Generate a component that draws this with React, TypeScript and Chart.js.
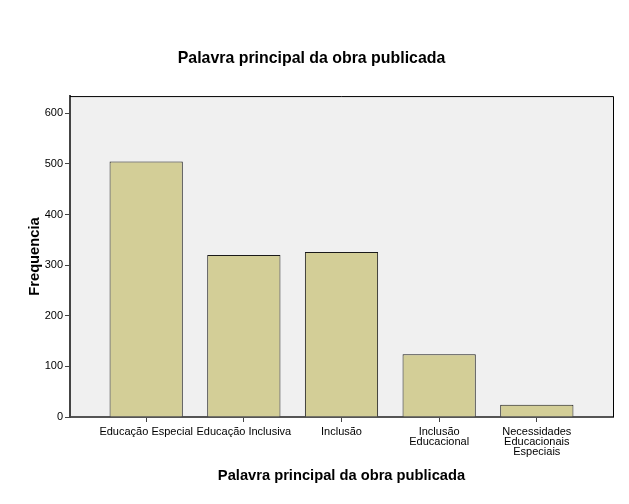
import React, { useEffect, useRef } from "react";
import { Chart, registerables } from "chart.js";

Chart.register(...registerables);

const categories: (string | string[])[] = [
  "Educação Especial",
  "Educação Inclusiva",
  "Inclusão",
  ["Inclusão", "Educacional"],
  ["Necessidades", "Educacionais", "Especiais"],
];
const frequencies = [505, 320, 326, 124, 24];
const yTicks = [0, 100, 200, 300, 400, 500, 600];
const chartTitle = "Palavra principal da obra publicada";
const xTitle = "Palavra principal da obra publicada";
const yTitle = "Frequencia";

const FONT = "'Liberation Sans', Arial, sans-serif";

const framePlugin = {
  id: "frame",
  beforeDraw(chart: any) {
    const { ctx, chartArea } = chart;
    ctx.save();
    ctx.fillStyle = "#f0f0f0";
    ctx.fillRect(chartArea.left, chartArea.top, chartArea.right - chartArea.left, chartArea.bottom - chartArea.top);
    ctx.restore();
  },
  afterDraw(chart: any) {
    const { ctx, chartArea } = chart;
    ctx.save();
    ctx.strokeStyle = "#000";
    ctx.lineWidth = 1;
    ctx.beginPath();
    ctx.moveTo(chartArea.left, chartArea.top + 0.5);
    ctx.lineTo(chartArea.right + 0.5, chartArea.top + 0.5);
    ctx.lineTo(chartArea.right + 0.5, chartArea.bottom);
    ctx.stroke();
    ctx.restore();
  },
};

export default function App() {
  const ref = useRef<HTMLCanvasElement | null>(null);
  useEffect(() => {
    if (!ref.current) return;
    const chart = new Chart(ref.current, {
      type: "bar",
      data: {
        datasets: [
          {
            data: frequencies.map((v, i) => ({ x: i, y: v })),
            backgroundColor: "#d3ce97",
            borderColor: "#1a1a1a",
            borderWidth: 1,
            borderSkipped: "bottom",
            categoryPercentage: 1,
            barPercentage: 0.75,
          },
        ],
      },
      options: {
        animation: false,
        responsive: false,
        maintainAspectRatio: false,
        layout: { padding: { left: 10, right: 16, top: 0, bottom: 19 } },
        plugins: {
          legend: { display: false },
          tooltip: { enabled: false },
          title: {
            display: true,
            text: chartTitle,
            color: "#000",
            font: { family: FONT, size: 15.9, weight: "bold" },
            padding: { top: 49, bottom: 28 },
          },
        },
        scales: {
          x: {
            type: "linear",
            min: -0.78,
            max: 4.78,
            offset: false,
            grid: { display: true, drawOnChartArea: false, offset: false, tickLength: 5, color: "#444" },
            border: { display: true, color: "#555", width: 2 },
            afterBuildTicks(scale: any) {
              scale.ticks = categories.map((_, i) => ({ value: i }));
            },
            ticks: {
              color: "#000",
              font: { family: FONT, size: 11, lineHeight: 0.92 },
              maxRotation: 0,
              autoSkip: false,
              padding: 5,
              callback: (value: any) => categories[value as number],
            },
            title: {
              display: true,
              text: xTitle,
              color: "#000",
              font: { family: FONT, size: 14.7, weight: "bold" },
              padding: { top: 10, bottom: 0 },
            },
            afterFit(scale: any) {
              scale.height = 68;
            },
          },
          y: {
            min: 0,
            max: 634,
            grid: { display: true, drawOnChartArea: false, tickLength: 5, color: "#444" },
            border: { display: true, color: "#444", width: 2 },
            ticks: {
              color: "#000",
              font: { family: FONT, size: 11 },
              padding: 2,
            },
            afterBuildTicks(scale: any) {
              scale.ticks = yTicks.map((v) => ({ value: v }));
            },
            title: {
              display: true,
              text: yTitle,
              color: "#000",
              font: { family: FONT, size: 14.7, weight: "bold" },
              padding: { top: 16, bottom: 6 },
            },
            afterFit(scale: any) {
              scale.width = 60;
            },
          },
        },
      },
      plugins: [framePlugin],
    });
    return () => chart.destroy();
  }, []);
  return (
    <div style={{ position: "absolute", left: 0, top: 0, width: 629, height: 504, background: "#fff" }}>
      <canvas ref={ref} width={629} height={504} />
    </div>
  );
}
